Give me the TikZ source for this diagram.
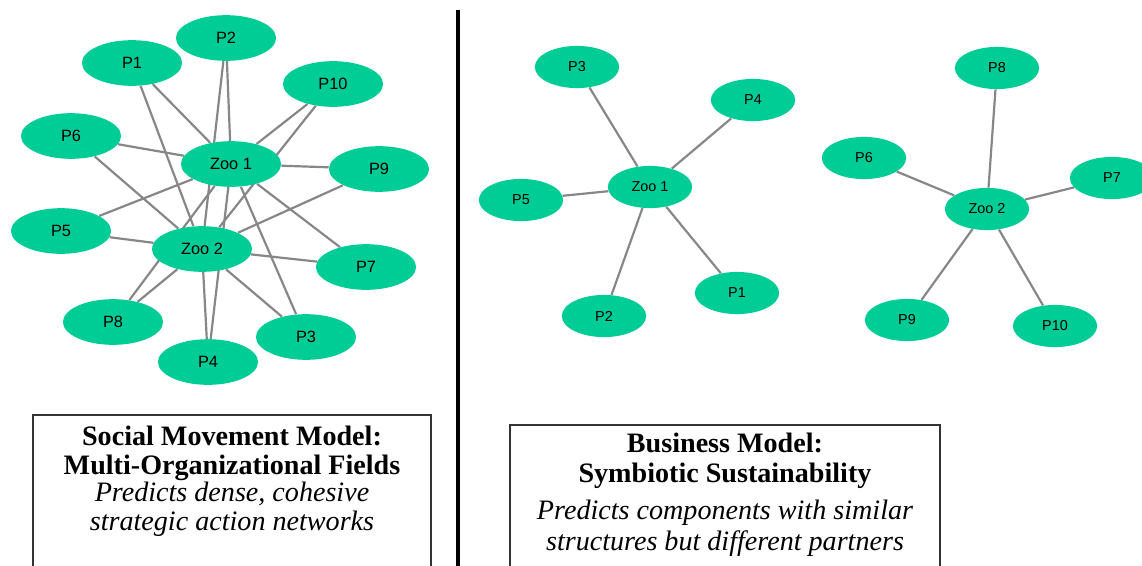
\documentclass[tikz,border=0pt]{standalone}
\usepackage{fontspec}
\setmainfont{Liberation Serif}
\setsansfont{Liberation Sans}
\usetikzlibrary{shapes.geometric,backgrounds}
\definecolor{zoogreen}{RGB}{0,204,150}
\definecolor{linkgray}{RGB}{135,135,135}

\begin{document}
\begin{tikzpicture}[x=0.02cm, y=-0.02cm,
    big/.style={ellipse, fill=zoogreen, minimum width=57pt, minimum height=26pt, inner sep=0pt, font=\sffamily\fontsize{9.3}{10}\selectfont},
    small/.style={ellipse, fill=zoogreen, minimum width=48pt, minimum height=24pt, inner sep=0pt, font=\sffamily\fontsize{8.2}{9}\selectfont},
    link/.style={draw=linkgray, line width=1.25pt},
    modelbox/.style={draw=black!80, line width=0.8pt},
    modeltitle/.style={align=center, font=\bfseries\fontsize{16}{16.5}\selectfont},
    modelnote/.style={align=center, font=\itshape\fontsize{16}{16.5}\selectfont}]
    \useasboundingbox (0,0) rectangle (1142,565);

    % Social movement network
    \node[big] (lz1) at (231,164) {Zoo 1};
    \node[big] (lz2) at (202,249) {Zoo 2};
    \node[big] (lp1) at (132,63) {P1};
    \node[big] (lp2) at (226,38) {P2};
    \node[big] (lp3) at (306,337) {P3};
    \node[big] (lp4) at (208,362) {P4};
    \node[big] (lp5) at (61,231) {P5};
    \node[big] (lp6) at (71,136) {P6};
    \node[big] (lp7) at (366,267) {P7};
    \node[big] (lp8) at (113,322) {P8};
    \node[big] (lp9) at (379,169) {P9};
    \node[big] (lp10) at (333,84) {P10};

    % Business networks
    \node[small] (rz1) at (650,187) {Zoo 1};
    \node[small] (rp3) at (577,67) {P3};
    \node[small] (rp4) at (753,100) {P4};
    \node[small] (rp5) at (521,200) {P5};
    \node[small] (rp1) at (737,293) {P1};
    \node[small] (rp2) at (604,316) {P2};

    \node[small] (rz2) at (987,209) {Zoo 2};
    \node[small] (rp8) at (997,68) {P8};
    \node[small] (rp6) at (864,158) {P6};
    \node[small] (rp7) at (1112,178) {P7};
    \node[small] (rp9) at (907,320) {P9};
    \node[small] (rp10) at (1055,326) {P10};

    % Links
    \begin{scope}[on background layer]
    \foreach \p in {1,...,10} {
        \draw[link] (lp\p) -- (lz1);
        \draw[link] (lp\p) -- (lz2);
    }
    \foreach \p in {1,...,5}
        \draw[link] (rp\p) -- (rz1);
    \foreach \p in {6,...,10}
        \draw[link] (rp\p) -- (rz2);
    \end{scope}

    % Divider
    \coordinate (divtop) at (458,10);
    \coordinate (divbot) at (458,570);
    \draw[line width=2.2pt] (divtop) -- (divbot);

    % Model boxes
    \draw[modelbox] (33,415) rectangle (431,575);
    \node[modeltitle] (smtitle) at (232,453) {Social Movement Model:\\Multi-Organizational Fields};
    \node[modelnote] (smnote) at (232,509) {Predicts dense, cohesive\\strategic action networks};

    \draw[modelbox] (510,425) rectangle (940,575);
    \node[modeltitle, font=\bfseries\fontsize{16}{17}\selectfont] (bmtitle) at (725,461) {Business Model:\\Symbiotic Sustainability};
    \node[modelnote, font=\itshape\fontsize{16}{17.5}\selectfont] (bmnote) at (725,528) {Predicts components with similar\\structures but different partners};
\end{tikzpicture}
\end{document}
